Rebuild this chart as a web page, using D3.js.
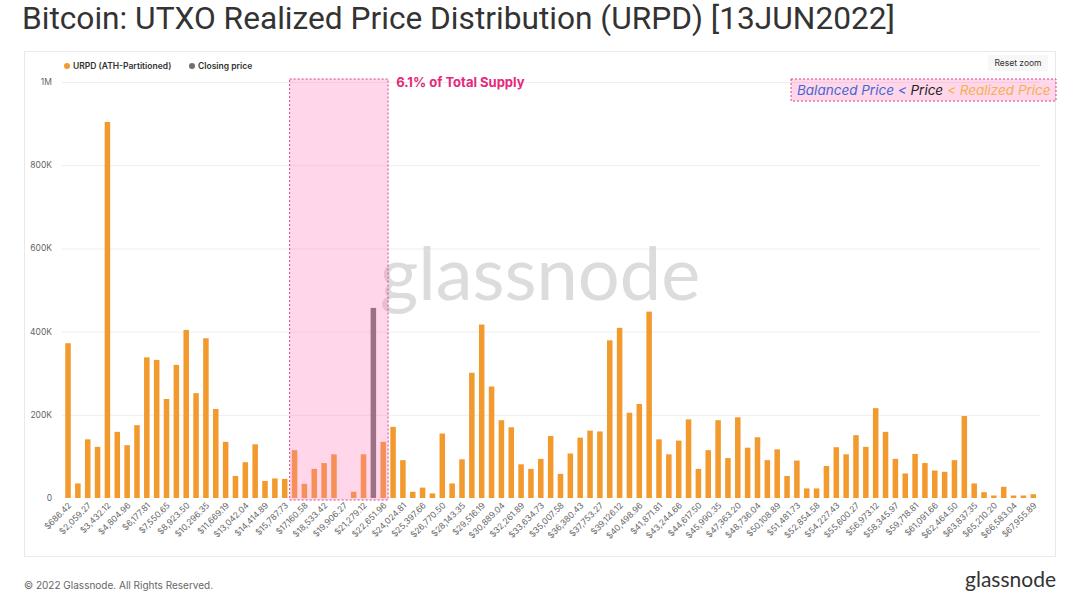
<!DOCTYPE html>
<html>
<head>
<meta charset="utf-8">
<script src="https://cdn.jsdelivr.net/npm/d3@7"></script>
<style>
  html, body { margin: 0; padding: 0; background: #fff; }
  svg { display: block; }
</style>
</head>
<body>
<div id="chart"></div>
<script>
// URPD supply per bucket (BTC), bucket 0..98
const urpd = [
  372000, 35000, 141000, 123000, 904000, 159000, 127000, 175000, 338000, 332000,
  238000, 320000, 404000, 252000, 384000, 214000, 135000, 53000, 86000, 129000,
  41000, 47000, 46000, 115000, 34000, 70000, 84000, 105000, 0, 15000,
  105000, 457000, 135000, 171000, 91000, 15000, 25000, 11000, 155000, 35000,
  93000, 301000, 417000, 268000, 187000, 170000, 81000, 70000, 94000, 149000,
  58000, 107000, 145000, 162000, 160000, 379000, 409000, 205000, 226000, 448000,
  141000, 105000, 138000, 189000, 70000, 115000, 187000, 96000, 194000, 121000,
  146000, 91000, 117000, 53000, 90000, 23000, 23000, 77000, 122000, 105000,
  151000, 123000, 216000, 159000, 94000, 59000, 106000, 84000, 66000, 63000,
  91000, 197000, 35000, 14000, 6000, 27000, 6000, 6000, 9000
];

// bucket holding the closing price
const closingIndex = 31;

// highlighted buckets (6.1% of supply)
const highlightRange = [23, 32];

// x tick labels, shown on every other bucket
const tickLabels = [
  "$686.42", "$2,059.27", "$3,432.12", "$4,804.96", "$6,177.81", "$7,550.65",
  "$8,923.50", "$10,296.35", "$11,669.19", "$13,042.04", "$14,414.89", "$15,787.73",
  "$17,160.58", "$18,533.42", "$19,906.27", "$21,279.12", "$22,651.96", "$24,024.81",
  "$25,397.66", "$26,770.50", "$28,143.35", "$29,516.19", "$30,889.04", "$32,261.89",
  "$33,634.73", "$35,007.58", "$36,380.43", "$37,753.27", "$39,126.12", "$40,498.96",
  "$41,871.81", "$43,244.66", "$44,617.50", "$45,990.35", "$47,363.20", "$48,736.04",
  "$50,108.89", "$51,481.73", "$52,854.58", "$54,227.43", "$55,600.27", "$56,973.12",
  "$58,345.97", "$59,718.81", "$61,091.66", "$62,464.50", "$63,837.35", "$65,210.20",
  "$66,583.04", "$67,955.89"
];

const yTicks = [0, 200000, 400000, 600000, 800000, 1000000];
const yTickLabels = ["0", "200K", "400K", "600K", "800K", "1M"];

const W = 1080, H = 592;
const svg = d3.select("#chart").append("svg")
  .attr("width", W).attr("height", H)
  .style("font-family", "Inter, 'Noto Sans', sans-serif");

// title
svg.append("text")
  .attr("x", 22).attr("y", 29)
  .attr("font-family", "Roboto, sans-serif")
  .attr("font-size", 31)
  .attr("fill", "#333")
  .attr("textLength", 873)
  .attr("lengthAdjust", "spacingAndGlyphs")
  .text("Bitcoin: UTXO Realized Price Distribution (URPD) [13JUN2022]");

// chart panel
svg.append("rect")
  .attr("x", 24.5).attr("y", 51.5).attr("width", 1031).attr("height", 505)
  .attr("fill", "#fff").attr("stroke", "#e9e9e9");

const x = d3.scaleBand()
  .domain(d3.range(urpd.length))
  .range([63.1, 1038.2])
  .paddingInner(0.44).paddingOuter(0.22);

const y = d3.scaleLinear().domain([0, 1000000]).range([498, 82]);

// gridlines
svg.append("g").selectAll("line").data(yTicks.slice(1)).enter().append("line")
  .attr("x1", 62).attr("x2", 1040)
  .attr("y1", d => y(d) + 0.5).attr("y2", d => y(d) + 0.5)
  .attr("stroke", "#eeeeee");

// y axis labels
svg.append("g").selectAll("text").data(yTicks).enter().append("text")
  .attr("x", 52).attr("y", d => y(d) + 3)
  .attr("text-anchor", "end")
  .attr("font-size", 8.5).attr("fill", "#666")
  .text((d, i) => yTickLabels[i]);

// watermark
svg.append("text")
  .attr("x", 540).attr("y", 300)
  .attr("text-anchor", "middle")
  .attr("font-family", "Lato, 'Open Sans', sans-serif")
  .attr("font-size", 74)
  .attr("fill", "#d6d6d6")
  .attr("opacity", 0.85)
  .text("glassnode");

// bars
svg.append("g").selectAll("rect").data(urpd).enter().append("rect")
  .attr("x", (d, i) => x(i))
  .attr("width", x.bandwidth())
  .attr("y", d => y(d))
  .attr("height", d => y(0) - y(d))
  .attr("fill", (d, i) => i === closingIndex ? "#6f6f6f" : "#f29a2e");

// highlight box on top of bars
const step = x.step();
const hx0 = x(highlightRange[0]) - step * x.paddingInner() / 2;
const hx1 = x(highlightRange[1]) + x.bandwidth() + step * x.paddingInner() / 2;
svg.append("rect")
  .attr("x", hx0).attr("y", 79)
  .attr("width", hx1 - hx0).attr("height", 500 - 79)
  .attr("fill", "rgba(255, 120, 185, 0.3)")
  .attr("stroke", "#d9468a").attr("stroke-width", 1)
  .attr("stroke-dasharray", "2,2");

svg.append("text")
  .attr("x", hx1 + 8).attr("y", 87)
  .attr("font-size", 13).attr("font-weight", 700)
  .attr("fill", "#e5287c")
  .text("6.1% of Total Supply");

// x axis labels
svg.append("g").selectAll("text").data(tickLabels).enter().append("text")
  .attr("transform", (d, i) => {
    const cx = x(i * 2) + x.bandwidth() / 2 + 4;
    return `translate(${cx},506) rotate(-45)`;
  })
  .attr("text-anchor", "end")
  .attr("font-size", 8.5).attr("fill", "#666")
  .text(d => d);

// legend
const legend = [
  {label: "URPD (ATH-Partitioned)", color: "#f29a2e", x: 67},
  {label: "Closing price", color: "#6f6f6f", x: 192}
];
const lg = svg.append("g").selectAll("g").data(legend).enter().append("g")
  .attr("transform", d => `translate(${d.x},66)`);
lg.append("circle").attr("r", 3).attr("fill", d => d.color);
lg.append("text").attr("x", 6).attr("y", 3)
  .attr("font-size", 8.5).attr("font-weight", 600).attr("fill", "#333")
  .text(d => d.label);

// reset zoom button
svg.append("rect")
  .attr("x", 988).attr("y", 55).attr("width", 60).attr("height", 16)
  .attr("fill", "#f7f7f7").attr("rx", 2);
svg.append("text")
  .attr("x", 1018).attr("y", 66).attr("text-anchor", "middle")
  .attr("font-size", 8.5).attr("fill", "#333")
  .text("Reset zoom");

// price relationship annotation
svg.append("rect")
  .attr("x", 791).attr("y", 79).attr("width", 265).attr("height", 22)
  .attr("fill", "rgba(255, 120, 185, 0.3)")
  .attr("stroke", "#d9468a").attr("stroke-dasharray", "2,2");
const ann = svg.append("text")
  .attr("x", 797).attr("y", 95)
  .attr("font-size", 13.5).attr("font-style", "italic");
ann.append("tspan").attr("fill", "#4466d4").text("Balanced Price < ");
ann.append("tspan").attr("fill", "#222").text("Price ");
ann.append("tspan").attr("fill", "#f5b04f").text("< Realized Price");

// footer
svg.append("text")
  .attr("x", 24).attr("y", 589)
  .attr("font-size", 10).attr("fill", "#666")
  .text("© 2022 Glassnode. All Rights Reserved.");
svg.append("text")
  .attr("x", 1056).attr("y", 587).attr("text-anchor", "end")
  .attr("font-family", "Lato, sans-serif")
  .attr("font-size", 21).attr("fill", "#333")
  .text("glassnode");
</script>
</body>
</html>
